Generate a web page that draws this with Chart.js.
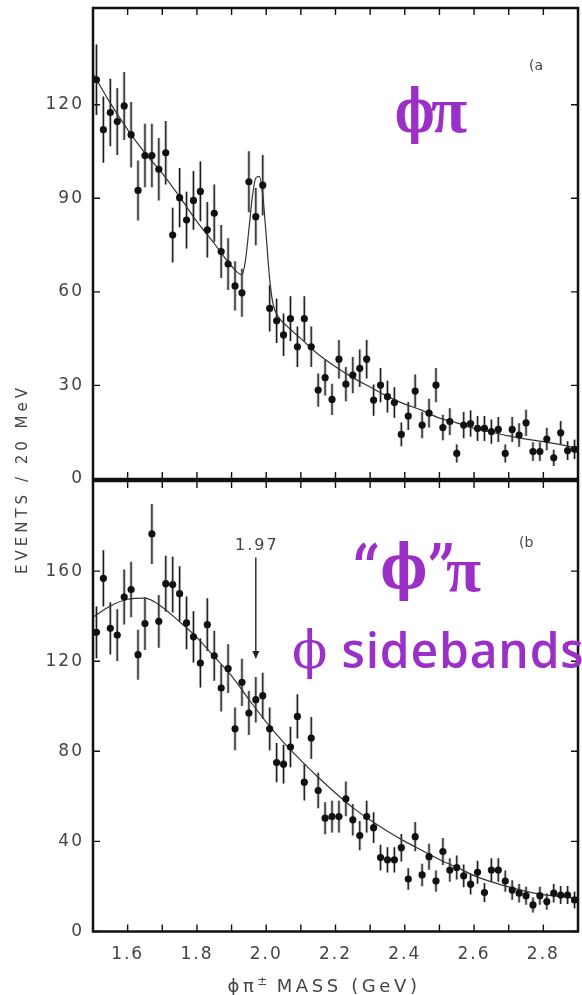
<!DOCTYPE html>
<html lang="en">
<head>
<meta charset="UTF-8">
<title>phi pi mass spectrum</title>
<script src="https://cdn.jsdelivr.net/npm/chart.js@4.4.0/dist/chart.umd.min.js"></script>
<style>
    html, body { margin: 0; padding: 0; background: #fff; }
    body { width: 582px; height: 995px; position: relative; overflow: hidden; font-family: "DejaVu Sans", sans-serif; }
    .panel { position: absolute; left: 0; width: 582px; }
    #top-wrap { top: 0; height: 490px; }
    #bot-wrap { top: 470px; height: 525px; }
    .note { position: absolute; color: #9a30c8; white-space: nowrap; line-height: 1; transform-origin: 0 0; }
    .phi { font-family: 'DejaVu Serif', serif; font-weight: bold; }
    .pi { font-family: 'Liberation Serif', serif; font-weight: bold; }
    .tag { position: absolute; color: #444; font-size: 14px; white-space: nowrap; }
    #ytitle { position: absolute; left: -98px; top: 469px; width: 240px; text-align: center;
              transform: rotate(-90deg); font-size: 15px; letter-spacing: 4px; color: #444; line-height: 20px; }
    #xtitle { position: absolute; left: 204px; top: 970px; width: 240px; text-align: center;
              font-size: 18px; letter-spacing: 3.6px; color: #444; line-height: 22px; white-space: nowrap; }
    #xtitle sup { font-size: 12px; letter-spacing: 0; }
</style>
</head>
<body>
<div class="panel" id="top-wrap"><canvas id="phiPiChart"></canvas></div>
<div class="panel" id="bot-wrap"><canvas id="sidebandChart"></canvas></div>

<div id="ytitle">EVENTS / 20 MeV</div>
<div id="xtitle">ϕπ<sup>±</sup> MASS (GeV)</div>
<div class="tag" style="left:529px; top:57px;">(a</div>
<div class="tag" style="left:519px; top:534px;">(b</div>

<div class="note phi" style="left:395px; top:81px; font-size:60px; transform:scaleX(0.7);">ϕ</div>
<div class="note pi" style="left:431px; top:77px; font-size:66px;">π</div>
<div class="note phi" style="left:352px; top:536px; font-size:62px; transform:scaleX(0.8);">“ϕ”</div>
<div class="note pi" style="left:446px; top:538px; font-size:64px;">π</div>
<div class="note" style="left:292px; top:624px; font-family:'Open Sans', sans-serif; font-weight:600; font-size:48px; letter-spacing:0.8px;"><span style="font-family:'DejaVu Serif', serif; font-weight:normal; font-size:52px;">ϕ</span> sidebands</div>

<script>
// bin centres, 20 MeV bins
const massBins = [
    1.51, 1.53, 1.55, 1.57, 1.59, 1.61, 1.63, 1.65, 1.67, 1.69,
    1.71, 1.73, 1.75, 1.77, 1.79, 1.81, 1.83, 1.85, 1.87, 1.89,
    1.91, 1.93, 1.95, 1.97, 1.99, 2.01, 2.03, 2.05, 2.07, 2.09,
    2.11, 2.13, 2.15, 2.17, 2.19, 2.21, 2.23, 2.25, 2.27, 2.29,
    2.31, 2.33, 2.35, 2.37, 2.39, 2.41, 2.43, 2.45, 2.47, 2.49,
    2.51, 2.53, 2.55, 2.57, 2.59, 2.61, 2.63, 2.65, 2.67, 2.69,
    2.71, 2.73, 2.75, 2.77, 2.79, 2.81, 2.83, 2.85, 2.87, 2.89
];

// (a) phi pi
const phiPiEvents = [
    128, 112, 117.5, 114.6, 119.6, 110.4, 92.5, 103.7, 103.7, 99.3,
    104.6, 78.2, 90.2, 83, 89.3, 92.2, 79.9, 85.2, 72.9, 68.9,
    61.9, 59.7, 95.3, 84.1, 94.2, 54.7, 50.7, 46.2, 51.4, 42.4,
    51.4, 42.4, 28.5, 32.5, 25.5, 38.4, 30.4, 33.3, 35.5, 38.4,
    25.3, 30.1, 26.4, 24.5, 14.3, 20.2, 28.2, 17.3, 21.1, 30.1,
    16.5, 18.4, 8.2, 17.3, 17.8, 16.2, 16.2, 15.2, 15.9, 8.2,
    15.9, 14.1, 18, 8.8, 8.8, 12.8, 6.8, 14.8, 9.1, 9.5
];
const phiPiErrors = [
    11.3, 10.6, 10.8, 10.7, 10.9, 10.5, 9.6, 10.2, 10.2, 10,
    10.2, 8.8, 9.5, 9.1, 9.4, 9.6, 8.9, 9.2, 8.5, 8.3,
    7.9, 7.7, 9.8, 9.2, 9.7, 7.4, 7.1, 6.8, 7.2, 6.5,
    7.2, 6.5, 5.3, 5.7, 5, 6.2, 5.5, 5.8, 6, 6.2,
    5, 5.5, 5.1, 4.9, 3.8, 4.5, 5.3, 4.2, 4.6, 5.5,
    4.1, 4.3, 2.9, 4.2, 4.2, 4, 4, 3.9, 4, 2.9,
    4, 3.8, 4.2, 3, 3, 3.6, 2.6, 3.8, 3, 3.1
];
const phiPiFitMass = [
    1.50, 1.55, 1.60, 1.65, 1.70, 1.75, 1.80, 1.85, 1.88, 1.91,
    1.93, 1.94, 1.95, 1.96, 1.97, 1.98, 1.99, 2.00, 2.01, 2.02,
    2.035, 2.06, 2.10, 2.15, 2.20, 2.25, 2.30, 2.35, 2.40, 2.45,
    2.50, 2.55, 2.60, 2.65, 2.70, 2.75, 2.80, 2.85, 2.90
];
const phiPiFitEvents = [
    130, 120.5, 112, 104.5, 98, 90.5, 82.5, 75.5, 71, 67,
    65.5, 70, 80, 90.5, 96.5, 97, 91, 78, 64, 56,
    52, 49, 45, 40, 36, 32.5, 29.5, 26.5, 24, 22,
    19.5, 18, 16.2, 15, 13.8, 12.8, 12, 11, 9.8
];

// (b) phi sidebands
const sidebandEvents = [
    132.8, 156.8, 134.6, 131.6, 148.5, 151.8, 122.9, 136.7, 176.5, 137.7,
    154.4, 154, 150, 137, 130.8, 119.2, 136.2, 122.4, 108.1, 116.7,
    90, 110.6, 97, 102.9, 104.7, 90, 75, 74.3, 81.9, 95.5,
    66.3, 85.9, 62.6, 50.3, 51, 51, 58.9, 49.6, 42.6, 51,
    46.1, 32.8, 31.8, 31.8, 37.2, 23.3, 42.1, 25.1, 33.2, 22.4,
    35.5, 27.3, 28.4, 24.7, 21, 26.3, 17.3, 27.3, 27.3, 22.4,
    18.4, 17, 15.9, 11.8, 15.9, 13.3, 17, 16.2, 16.2, 14
];
const sidebandErrors = [
    11.5, 12.5, 11.6, 11.5, 12.2, 12.3, 11.1, 11.7, 13.3, 11.7,
    12.4, 12.4, 12.2, 11.7, 11.4, 10.9, 11.7, 11.1, 10.4, 10.8,
    9.5, 10.5, 9.8, 10.1, 10.2, 9.5, 8.7, 8.6, 9, 9.8,
    8.1, 9.3, 7.9, 7.1, 7.1, 7.1, 7.7, 7, 6.5, 7.1,
    6.8, 5.7, 5.6, 5.6, 6.1, 4.8, 6.5, 5, 5.8, 4.7,
    6, 5.2, 5.3, 5, 4.6, 5.1, 4.2, 5.2, 5.2, 4.7,
    4.3, 4.1, 4, 3.4, 4, 3.6, 4.1, 4, 4, 3.7
];
const sidebandFitMass = [
    1.50, 1.55, 1.60, 1.65, 1.70, 1.75, 1.80, 1.85, 1.90, 1.95,
    2.00, 2.05, 2.10, 2.15, 2.20, 2.25, 2.30, 2.35, 2.40, 2.45,
    2.50, 2.55, 2.60, 2.65, 2.70, 2.75, 2.80, 2.85, 2.90
];
const sidebandFitEvents = [
    139.5, 144.5, 147.5, 148, 144, 137.5, 130.5, 122, 113.5, 103,
    93, 84, 76, 68.5, 61.5, 55, 49.5, 44.5, 40, 36,
    32, 28.5, 24.8, 22, 19.8, 17.8, 16.4, 15.5, 14.8
];

// axes
const massTicks = [1.6, 1.8, 2.0, 2.2, 2.4, 2.6, 2.8];
const massMinorTicks = [1.6, 1.7, 1.8, 1.9, 2.0, 2.1, 2.2, 2.3, 2.4, 2.5, 2.6, 2.7, 2.8];
const phiPiTicks = [0, 30, 60, 90, 120];
const sidebandTicks = [0, 40, 80, 120, 160];

const toPoints = (xs, ys) => xs.map((x, i) => ({ x: x, y: ys[i] }));

// wider letter spacing like the old typewriter labels
const spacingPlugin = {
    id: 'spacing',
    beforeDraw(chart) { chart.ctx.letterSpacing = '2px'; }
};

const errorBarPlugin = {
    id: 'errorBars',
    beforeDatasetsDraw(chart) {
        const { ctx, scales: { x, y } } = chart;
        chart.data.datasets.forEach(ds => {
            if (!ds.errors) return;
            ctx.save();
            ds.data.forEach((p, i) => {
                const px = x.getPixelForValue(p.x);
                const top = y.getPixelForValue(p.y + ds.errors[i]);
                const bot = y.getPixelForValue(p.y - ds.errors[i]);
                ctx.beginPath();
                ctx.moveTo(px, top);
                ctx.lineTo(px, bot);
                ctx.strokeStyle = 'rgba(110,110,110,0.45)';
                ctx.lineWidth = 3;
                ctx.stroke();
                ctx.strokeStyle = '#1c1c1c';
                ctx.lineWidth = 1.2;
                ctx.stroke();
            });
            ctx.restore();
        });
    }
};

// box with inward ticks on all four sides
const framePlugin = {
    id: 'frame',
    afterDraw(chart, args, opts) {
        const { ctx, chartArea: a, scales: { x, y } } = chart;
        ctx.save();
        ctx.strokeStyle = '#111';
        ctx.lineWidth = 2.5;
        ctx.strokeRect(a.left, a.top, a.right - a.left, a.bottom - a.top);
        ctx.lineWidth = 1.4;
        ctx.beginPath();
        massMinorTicks.forEach(v => {
            const px = x.getPixelForValue(v);
            ctx.moveTo(px, a.top); ctx.lineTo(px, a.top + 7);
            ctx.moveTo(px, a.bottom); ctx.lineTo(px, a.bottom - 7);
        });
        opts.yTicks.forEach(v => {
            const py = y.getPixelForValue(v);
            ctx.moveTo(a.left, py); ctx.lineTo(a.left + 7, py);
            ctx.moveTo(a.right, py); ctx.lineTo(a.right - 7, py);
        });
        ctx.stroke();
        ctx.restore();
    }
};

// the 1.97 arrow in panel (b)
const markerPlugin = {
    id: 'marker',
    afterDatasetsDraw(chart, args, opts) {
        if (!opts.text) return;
        const { ctx, scales: { x, y } } = chart;
        const px = x.getPixelForValue(opts.mass);
        const y0 = y.getPixelForValue(opts.from);
        const y1 = y.getPixelForValue(opts.to);
        ctx.save();
        ctx.strokeStyle = '#222';
        ctx.fillStyle = '#222';
        ctx.lineWidth = 1.4;
        ctx.beginPath();
        ctx.moveTo(px, y0);
        ctx.lineTo(px, y1 - 6);
        ctx.stroke();
        ctx.beginPath();
        ctx.moveTo(px - 3.5, y1 - 8);
        ctx.lineTo(px + 3.5, y1 - 8);
        ctx.lineTo(px, y1);
        ctx.closePath();
        ctx.fill();
        ctx.fillStyle = '#444';
        ctx.font = '16px "DejaVu Sans"';
        ctx.letterSpacing = '2px';
        ctx.textAlign = 'center';
        ctx.textBaseline = 'middle';
        ctx.fillText(opts.text, px + 1, y.getPixelForValue(opts.labelAt));
        ctx.restore();
    }
};

const tickFont = { family: 'DejaVu Sans', size: 17 };

function makePanel(canvasId, events, errors, fitMass, fitEvents, yMax, yTicks, isBottom, marker) {
    return new Chart(document.getElementById(canvasId), {
        type: 'scatter',
        data: {
            datasets: [
                {
                    type: 'line',
                    data: toPoints(fitMass, fitEvents),
                    borderColor: '#333',
                    borderWidth: 1.2,
                    pointRadius: 0,
                    cubicInterpolationMode: 'monotone',
                    fill: false,
                    order: 2
                },
                {
                    data: toPoints(massBins, events),
                    errors: errors,
                    pointRadius: 3.6,
                    backgroundColor: '#111',
                    borderWidth: 0,
                    order: 1
                }
            ]
        },
        options: {
            responsive: true,
            maintainAspectRatio: false,
            animation: false,
            layout: { padding: { top: isBottom ? 11 : 8, right: 2, left: 0, bottom: 0 } },
            plugins: {
                legend: { display: false },
                tooltip: { enabled: false },
                frame: { yTicks: yTicks },
                marker: marker || {}
            },
            scales: {
                x: {
                    type: 'linear',
                    min: 1.5,
                    max: 2.9,
                    grid: { display: false, drawTicks: false },
                    border: { display: false },
                    afterBuildTicks: s => { s.ticks = massTicks.map(v => ({ value: v })); },
                    ticks: {
                        display: isBottom,
                        color: '#444',
                        font: tickFont,
                        padding: 13,
                        maxRotation: 0,
                        callback: v => v.toFixed(1)
                    },
                    afterFit: s => {
                        s.height = isBottom ? 63.5 : 11;
                        s.paddingLeft = 0; s.paddingRight = 0;
                    }
                },
                y: {
                    min: 0,
                    max: yMax,
                    grid: { display: false, drawTicks: false },
                    border: { display: false },
                    afterBuildTicks: s => { s.ticks = yTicks.map(v => ({ value: v })); },
                    ticks: { color: '#444', font: tickFont, padding: 9 },
                    afterFit: s => {
                        s.width = 93;
                        s.paddingTop = 0; s.paddingBottom = 0;
                    }
                }
            }
        },
        plugins: [spacingPlugin, errorBarPlugin, framePlugin, markerPlugin]
    });
}

makePanel('phiPiChart', phiPiEvents, phiPiErrors, phiPiFitMass, phiPiFitEvents, 151, phiPiTicks, false, null);
makePanel('sidebandChart', sidebandEvents, sidebandErrors, sidebandFitMass, sidebandFitEvents, 200, sidebandTicks, true,
    { mass: 1.97, from: 166, to: 121, labelAt: 171.3, text: '1.97' });
</script>
</body>
</html>
